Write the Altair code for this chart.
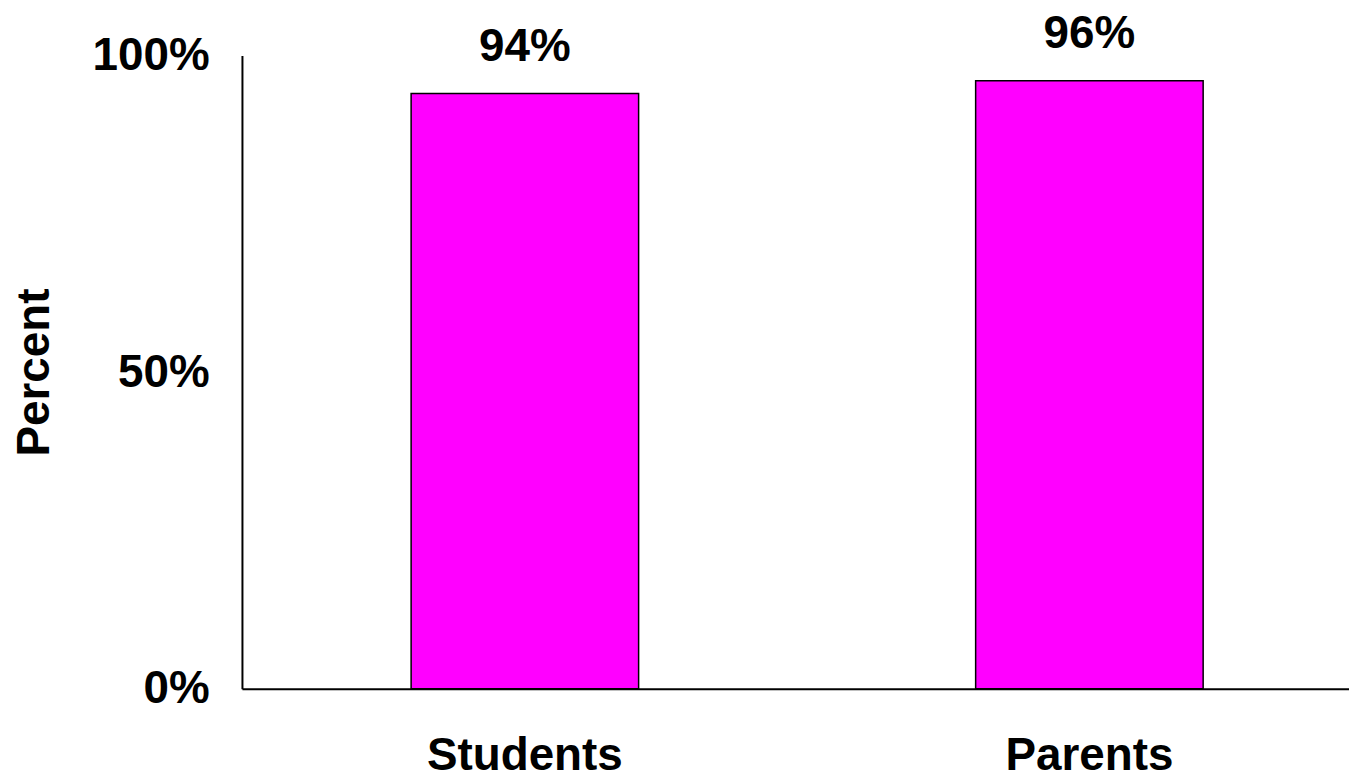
import altair as alt
import pandas as pd

groups = ["Students", "Parents"]
values = [94, 96]
labels = ["94%", "96%"]

df = pd.DataFrame({"group": groups, "value": values, "label": labels})

FONT = "Liberation Sans"
FS = 46

x = alt.X(
    "group:N",
    sort=groups,
    scale=alt.Scale(paddingInner=0.597, paddingOuter=0.279, align=0.537),
    axis=alt.Axis(
        title=None,
        labelAngle=0,
        labelFont=FONT,
        labelFontSize=FS,
        labelFontWeight="bold",
        labelColor="black",
        labelPadding=45,
        labelLimit=0,
        ticks=False,
        grid=False,
        domainColor="black",
        domainWidth=2,
    ),
)

y = alt.Y(
    "value:Q",
    scale=alt.Scale(domain=[0, 100]),
    axis=alt.Axis(
        title="Percent",
        titleFont=FONT,
        titleFontSize=FS,
        titleFontWeight="bold",
        titleColor="black",
        titlePadding=34,
        values=[0, 50, 100],
        labelExpr="datum.value + '%'",
        labelFont=FONT,
        labelFontSize=FS,
        labelFontWeight="bold",
        labelColor="black",
        labelPadding=33,
        ticks=False,
        grid=False,
        domainColor="black",
        domainWidth=2,
    ),
)

bars = alt.Chart(df).mark_bar(
    color="#FF00FF", stroke="black", strokeWidth=1.5
).encode(x=x, y=y)

text = alt.Chart(df).mark_text(
    font=FONT, fontSize=FS, fontWeight="bold", color="black",
    baseline="alphabetic", dy=-33
).encode(
    x=alt.X("group:N", sort=groups),
    y=alt.Y("value:Q"),
    text="label:N",
)

chart = (
    alt.layer(bars, text)
    .properties(
        width=1112,
        height=636,
        background="white",
        autosize=alt.AutoSizeParams(type="none"),
        padding={"left": 235, "top": 46, "right": 0, "bottom": 92},
    )
    .configure_view(strokeWidth=0)
    .configure_axis(grid=False)
)

chart.save("out.html", embed_options={"renderer": "svg", "actions": False})
